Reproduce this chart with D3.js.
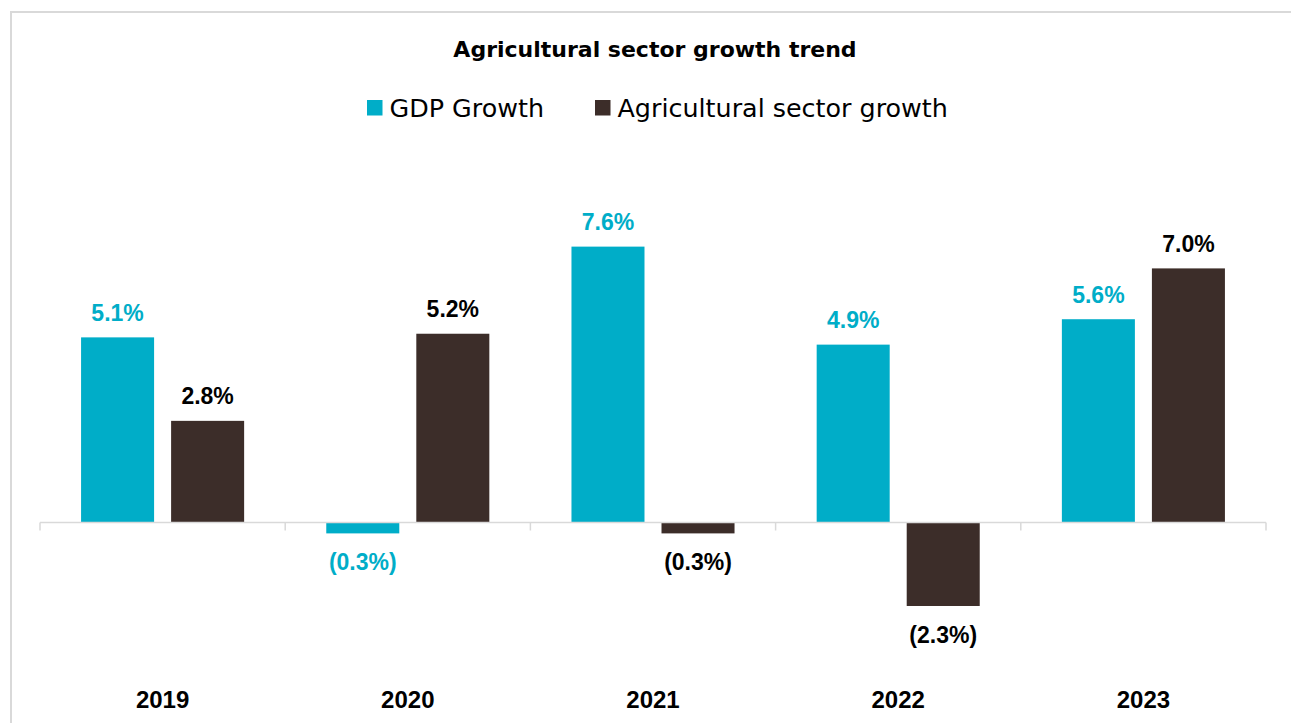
<!DOCTYPE html>
<html>
<head>
<meta charset="utf-8">
<script src="https://cdn.jsdelivr.net/npm/d3@7"></script>
<style>
  html, body { margin: 0; padding: 0; background: #ffffff; overflow: hidden; }
  svg { display: block; }
</style>
</head>
<body>
<svg id="chart" width="1291" height="723"></svg>
<script>
// Data
const years = ["2019", "2020", "2021", "2022", "2023"];
const seriesNames = ["GDP Growth", "Agricultural sector growth"];
const gdpGrowth = [5.1, -0.3, 7.6, 4.9, 5.6];
const agriGrowth = [2.8, 5.2, -0.3, -2.3, 7.0];
const chartTitle = "Agricultural sector growth trend";

const colors = ["#00adc8", "#3c2d29"];
const labelColors = ["#00adc8", "#000000"];

const svg = d3.select("#chart");

// Frame: only the top and left edges fall inside the view
svg.append("path")
  .attr("d", "M11,723 L11,12 L1291,12")
  .attr("fill", "none")
  .attr("stroke", "#d9d9d9")
  .attr("stroke-width", 2);

// Scales
const x0 = d3.scaleBand()
  .domain(years)
  .range([40, 1266])
  .paddingInner(0.335)
  .paddingOuter(0.1675);

const x1 = d3.scaleBand()
  .domain(seriesNames)
  .range([0, x0.bandwidth()])
  .paddingInner(0.189)
  .paddingOuter(0);

const y = d3.scaleLinear()
  .domain([-4, 8])
  .range([667.7, 232.1]);

const rows = years.map((yr, i) => ({
  year: yr,
  values: [
    { key: seriesNames[0], idx: 0, value: gdpGrowth[i] },
    { key: seriesNames[1], idx: 1, value: agriGrowth[i] }
  ]
}));

// Bars
const groups = svg.append("g").selectAll("g")
  .data(rows)
  .join("g")
  .attr("transform", d => `translate(${x0(d.year)},0)`);

groups.selectAll("rect")
  .data(d => d.values)
  .join("rect")
  .attr("x", d => x1(d.key))
  .attr("width", x1.bandwidth())
  .attr("y", d => y(Math.max(0, d.value)))
  .attr("height", d => Math.abs(y(d.value) - y(0)))
  .attr("fill", d => colors[d.idx]);

// Category axis along zero, with ticks between the year groups
const axisLine = svg.append("g").attr("class", "axis");
axisLine.append("line")
  .attr("x1", 40).attr("x2", 1266)
  .attr("y1", y(0)).attr("y2", y(0))
  .attr("stroke", "#d9d9d9").attr("stroke-width", 1.5);
axisLine.selectAll("line.tick")
  .data(d3.range(years.length + 1))
  .join("line")
  .attr("class", "tick")
  .attr("x1", i => 40 + i * x0.step())
  .attr("x2", i => 40 + i * x0.step())
  .attr("y1", y(0)).attr("y2", y(0) + 8)
  .attr("stroke", "#d9d9d9").attr("stroke-width", 1.5);

// Year labels
svg.append("g").selectAll("text")
  .data(years)
  .join("text")
  .attr("x", d => x0(d) + x0.bandwidth() / 2)
  .attr("y", 707.5)
  .attr("text-anchor", "middle")
  .attr("font-family", "'Liberation Sans', Arial, sans-serif")
  .attr("font-weight", "bold")
  .attr("font-size", 24)
  .attr("fill", "#000")
  .text(d => d);

// Value labels
const fmt = v => v < 0 ? `(${Math.abs(v).toFixed(1)}%)` : `${v.toFixed(1)}%`;
groups.selectAll("text")
  .data(d => d.values)
  .join("text")
  .attr("x", d => x1(d.key) + x1.bandwidth() / 2)
  .attr("y", d => d.value >= 0 ? y(d.value) - 16.5 : y(d.value) + 37)
  .attr("text-anchor", "middle")
  .attr("font-family", "'Liberation Sans', Arial, sans-serif")
  .attr("font-weight", "bold")
  .attr("font-size", 23)
  .attr("fill", d => labelColors[d.idx])
  .text(d => fmt(d.value));

// Title
svg.append("text")
  .attr("x", 655)
  .attr("y", 57.3)
  .attr("text-anchor", "middle")
  .attr("font-family", "'DejaVu Sans', sans-serif")
  .attr("font-weight", "bold")
  .attr("font-size", 22)
  .attr("fill", "#000")
  .text(chartTitle);

// Legend
const legendX = [367, 595];
const legend = svg.append("g").selectAll("g")
  .data(seriesNames)
  .join("g")
  .attr("transform", (d, i) => `translate(${legendX[i]},0)`);
legend.append("rect")
  .attr("x", 0).attr("y", 100)
  .attr("width", 15.5).attr("height", 15.5)
  .attr("fill", (d, i) => colors[i]);
legend.append("text")
  .attr("x", 22.5)
  .attr("y", 116.5)
  .attr("font-family", "'DejaVu Sans', sans-serif")
  .attr("font-size", 25.4)
  .attr("fill", "#000")
  .text(d => d);
</script>
</body>
</html>
